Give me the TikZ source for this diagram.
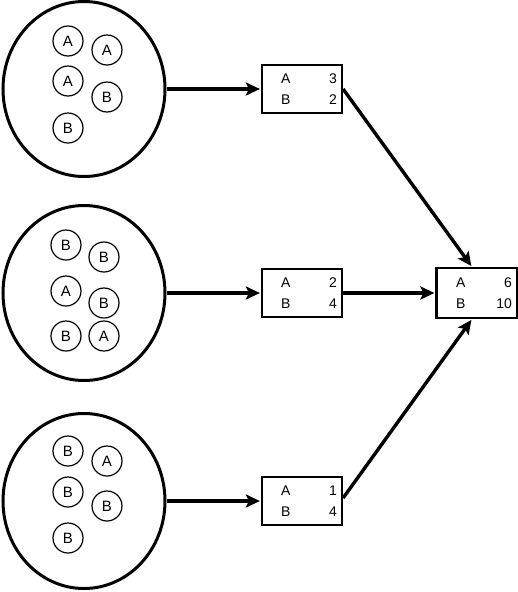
\documentclass[tikz,border=0pt]{standalone}
\usepackage{fontspec}
\setmainfont{Liberation Sans}
\usetikzlibrary{arrows.meta, positioning, shapes.geometric}

\tikzset{
  pool/.style={ellipse, draw, line width=3pt, minimum width=162pt, minimum height=175pt},
  ball/.style={circle, draw, line width=1.2pt, minimum size=30pt, inner sep=0pt, font=\fontsize{15}{16}\selectfont},
  tally/.style={rectangle, draw, line width=2.2pt, minimum width=80pt, minimum height=48pt,
    text width=70pt, align=left, inner sep=0pt, font=\fontsize{14}{21}\selectfont},
}
\newcommand{\row}[2]{\hspace*{14pt}#1\hfill #2}

\begin{document}
\begin{tikzpicture}[x=1pt,y=-1pt,->,>={Stealth[length=14pt,width=13pt,inset=3pt]},shorten >=1pt,line width=3.4pt,node distance=218pt]
                \useasboundingbox (0,0) rectangle (517,592);

                \node[pool] (p1) at (84,89) {};
                \node[pool] (p2) at (84,293) {};
                \node[pool] (p3) at (84,501) {};

                % balls in each pool
                \node[ball] (b11) at (68,41) {A};
                \node[ball] (b12) at (107,50) {A};
                \node[ball] (b13) at (68,81) {A};
                \node[ball] (b14) at (107,97) {B};
                \node[ball] (b15) at (68,128) {B};

                \node[ball] (b21) at (66,245) {B};
                \node[ball] (b22) at (104,257) {B};
                \node[ball] (b23) at (66,291) {A};
                \node[ball] (b24) at (104,303) {B};
                \node[ball] (b25) at (66,336) {B};
                \node[ball] (b26) at (104,336) {A};

                \node[ball] (b31) at (68,451) {B};
                \node[ball] (b32) at (107,461) {A};
                \node[ball] (b33) at (68,492) {B};
                \node[ball] (b34) at (107,506) {B};
                \node[ball] (b35) at (68,538) {B};

                \node[tally] (t1) [right of=p1] {\row{A}{3}\\\row{B}{2}};
                \node[tally] (t2) [right of=p2] {\row{A}{2}\\\row{B}{4}};
                \node[tally] (t3) [right of=p3] {\row{A}{1}\\\row{B}{4}};
                \node[tally, minimum width=81pt, minimum height=50pt] (s) [right of=t2, node distance=175pt] {\row{A}{6}\\\row{B}{10}};

                \path
                (p1) edge (t1)
                (p2) edge (t2)
                (p3) edge (t3)
                (t1.east) edge ([xshift=-5pt]s.north)
                (t2) edge (s)
                ([yshift=3pt]t3.east) edge ([xshift=-5pt]s.south)
                ;
            \end{tikzpicture}
\end{document}
